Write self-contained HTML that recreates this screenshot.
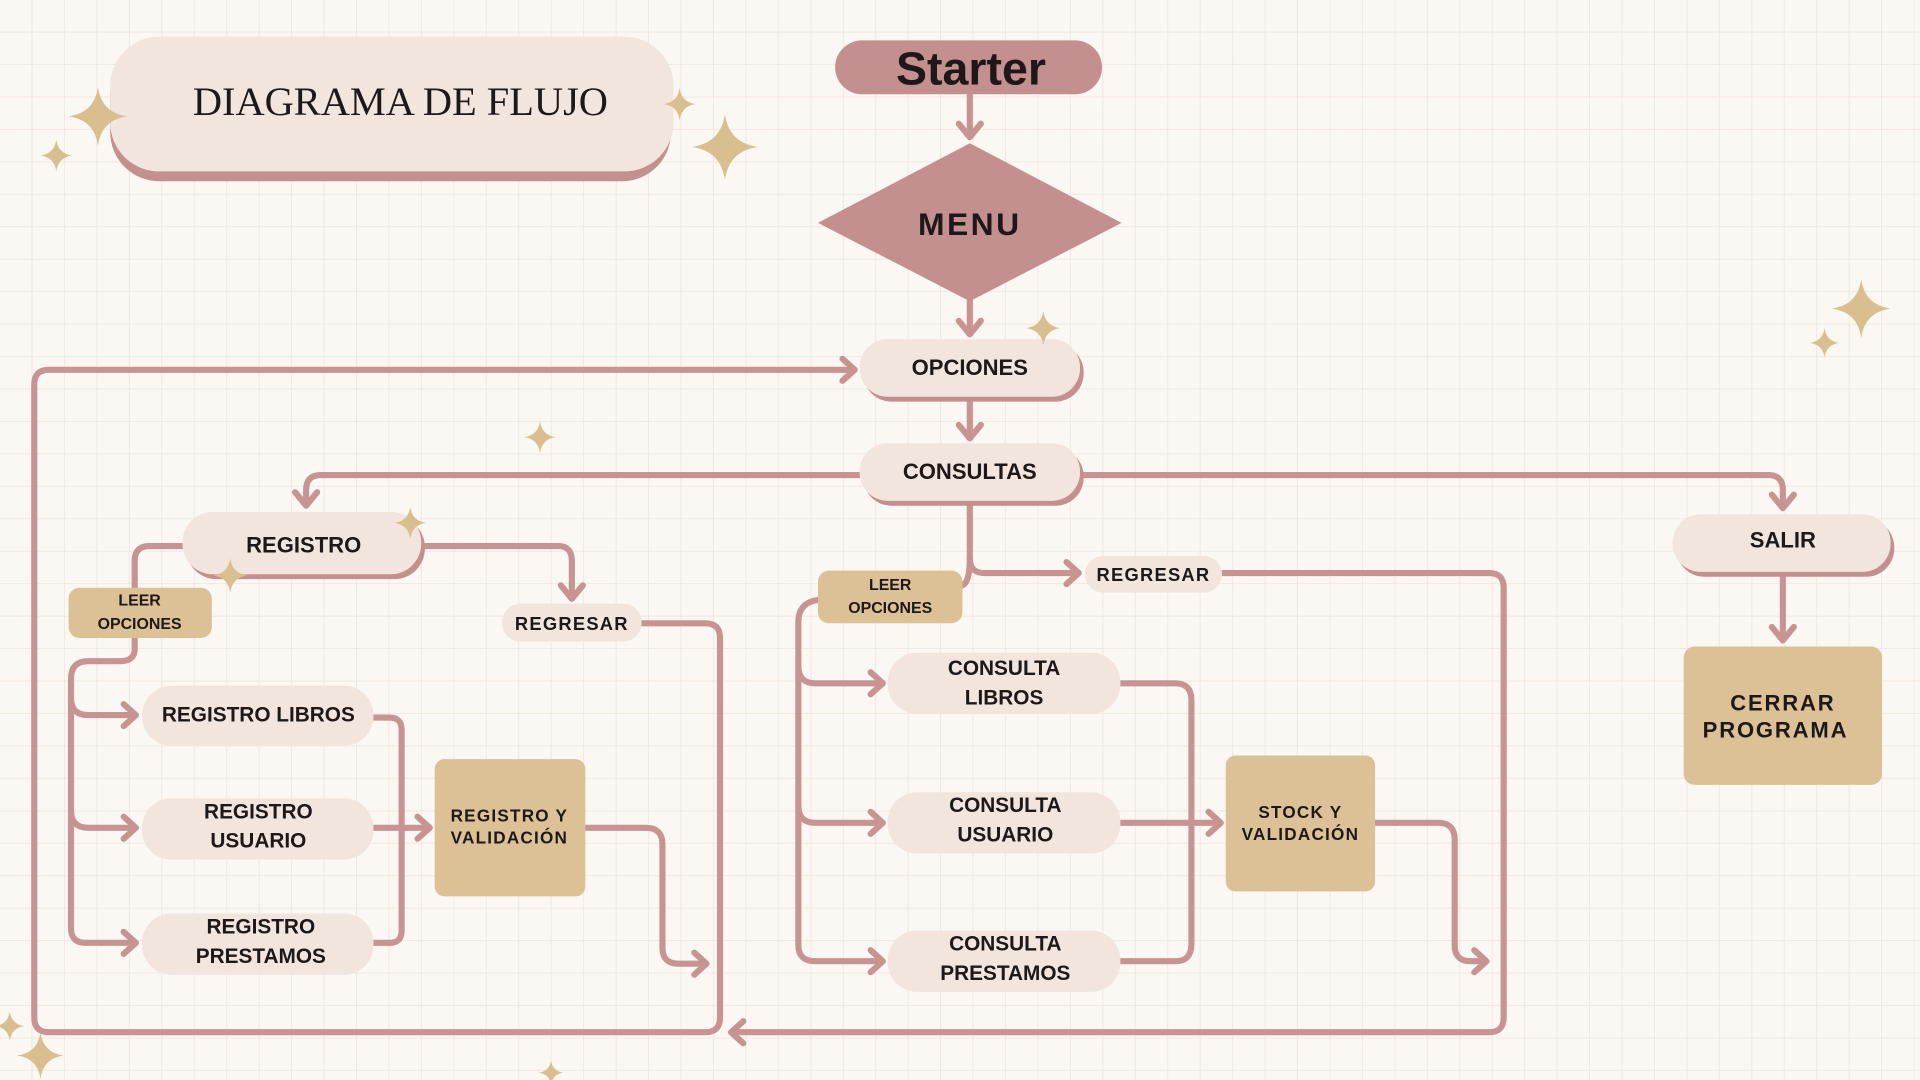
<!DOCTYPE html>
<html><head><meta charset="utf-8"><style>
html,body{margin:0;padding:0;width:1920px;height:1080px;overflow:hidden;background:#fbf7f2}
svg{display:block}
text{font-family:"Liberation Sans",sans-serif;font-weight:bold;fill:#1e1818;text-anchor:middle;dominant-baseline:central}
</style></head><body>
<svg width="1920" height="1080" viewBox="0 0 1568 882" xmlns="http://www.w3.org/2000/svg">
<defs>
<pattern id="g" width="26.5" height="26.5" patternUnits="userSpaceOnUse">
<path d="M26.5 0V26.5H0" fill="none" stroke="#efe4dc" stroke-width="1.3"/>
</pattern>
<symbol id="sp" viewBox="-10 -10 20 20"><path d="M0-10Q1.2-1.2 10 0Q1.2 1.2 0 10Q-1.2 1.2-10 0Q-1.2-1.2 0-10Z" fill="#d9bf8f"/></symbol>
</defs>
<rect width="1568" height="882" fill="#fbf7f2"/>
<rect width="1568" height="882" fill="url(#g)"/>

<!-- title -->
<rect x="90" y="38" width="458" height="110" rx="40" fill="#c48f8f"/>
<rect x="90" y="30" width="460" height="110" rx="40" fill="#f2e5de"/>
<text x="327" y="83" style="font-family:'Liberation Serif',serif;font-weight:normal;font-size:33px">DIAGRAMA DE FLUJO</text>

<!-- connectors -->
<g fill="none" stroke="#c79393" stroke-width="5" stroke-linecap="round" stroke-linejoin="round">
<path d="M792 78V112"/><polyline points="783,101 792,112 801,101"/>
<path d="M792 246V272"/><polyline points="783,262 792,273 801,262"/>
<path d="M792 326V357"/><polyline points="783,347 792,358 801,347"/>
<path d="M702 388H262Q250 388 250 400V412"/><polyline points="241,402 250,413 259,402"/>
<path d="M884 388H1444Q1456 388 1456 400V414"/><polyline points="1447,404 1456,415 1465,404"/>
<path d="M1456 470V522"/><polyline points="1447,512 1456,523 1465,512"/>
<!-- registro -->
<path d="M346 446H456Q467 446 467 458V487"/><polyline points="458,478 467,489 476,478"/>
<path d="M150 446H122Q110 446 110 458V480"/>
<path d="M110 520V530Q110 540 98 540H72Q58 540 58 554V758Q58 770 70 770H110"/>
<path d="M58 570Q58 584 72 584H110"/><path d="M58 662Q58 676 72 676H110"/>
<polyline points="101,575 111,584 101,593"/><polyline points="101,667 111,676 101,685"/><polyline points="101,761 111,770 101,779"/>
<path d="M305 586H318Q328 586 328 596V760Q328 770 318 770H305"/>
<path d="M305 676H350"/><polyline points="341,667 351,676 341,685"/>
<path d="M478 676H528Q541 676 541 690V774Q541 787 554 787H576"/><polyline points="567,778 577,787 567,796"/>
<!-- big loop left -->
<path d="M524 509H576Q588 509 588 521V831Q588 843 576 843H40Q28 843 28 831V314Q28 302 40 302H698"/>
<polyline points="688,293 698,302 688,311"/>
<!-- consultas branch -->
<path d="M792 410V456Q792 468 804 468H880"/><polyline points="871,459 881,468 871,477"/>
<path d="M792 456Q792 476 786 478"/>
<path d="M998 468H1216Q1228 468 1228 480V831Q1228 843 1216 843H598"/><polyline points="607,834 597,843 607,852"/>
<path d="M668 490Q652 492 652 508V772Q652 785 666 785H720"/>
<path d="M652 544Q652 558 666 558H720"/><path d="M652 658Q652 672 666 672H720"/>
<polyline points="711,549 721,558 711,567"/><polyline points="711,663 721,672 711,681"/><polyline points="711,776 721,785 711,794"/>
<path d="M915 558H960Q973 558 973 572V771Q973 785 960 785H915"/>
<path d="M915 672H996"/><polyline points="987,663 997,672 987,681"/>
<path d="M1123 672H1175Q1188 672 1188 686V772Q1188 785 1201 785H1213"/><polyline points="1204,776 1214,785 1204,794"/>
</g>

<!-- Starter -->
<rect x="682" y="33" width="218" height="44" rx="22" fill="#c48f8f"/>
<text x="793" y="56" style="font-size:38px">Starter</text>
<!-- Menu -->
<polygon points="792,117 916,182 792,246 668,182" fill="#c48f8f"/>
<text x="792" y="183" style="font-size:26px;letter-spacing:2px">MENU</text>

<!-- pills -->
<g>
<rect x="705" y="281" width="180" height="47" rx="23" fill="#c48f8f"/><rect x="702" y="277" width="180" height="47" rx="23" fill="#f2e5de"/>
<text x="792" y="300" style="font-size:18px">OPCIONES</text>
<rect x="705" y="366" width="180" height="47" rx="23" fill="#c48f8f"/><rect x="702" y="362" width="180" height="47" rx="23" fill="#f2e5de"/>
<text x="792" y="385" style="font-size:18px">CONSULTAS</text>
<rect x="152" y="422" width="195" height="51" rx="25" fill="#c48f8f"/><rect x="149" y="418" width="195" height="51" rx="25" fill="#f2e5de"/>
<text x="248" y="445" style="font-size:18px">REGISTRO</text>
<rect x="1369" y="424" width="178" height="47" rx="23" fill="#c48f8f"/><rect x="1366" y="420" width="178" height="47" rx="23" fill="#f2e5de"/>
<text x="1456" y="441" style="font-size:18px">SALIR</text>
<rect x="410" y="493" width="114" height="31" rx="15" fill="#f2e5de"/>
<text x="467" y="509" style="font-size:15px;letter-spacing:1px">REGRESAR</text>
<rect x="886" y="454" width="112" height="30" rx="15" fill="#f2e5de"/>
<text x="942" y="469" style="font-size:15px;letter-spacing:1px">REGRESAR</text>
<rect x="116" y="560" width="189" height="49" rx="24" fill="#f2e5de"/>
<text x="211" y="584" style="font-size:17px">REGISTRO LIBROS</text>
<rect x="116" y="652" width="189" height="50" rx="24" fill="#f2e5de"/>
<text x="211" y="663" style="font-size:17px">REGISTRO</text><text x="211" y="687" style="font-size:17px">USUARIO</text>
<rect x="116" y="746" width="189" height="50" rx="24" fill="#f2e5de"/>
<text x="213" y="757" style="font-size:17px">REGISTRO</text><text x="213" y="781" style="font-size:17px">PRESTAMOS</text>
<rect x="725" y="533" width="190" height="50" rx="24" fill="#f2e5de"/>
<text x="820" y="546" style="font-size:17px">CONSULTA</text><text x="820" y="570" style="font-size:17px">LIBROS</text>
<rect x="725" y="647" width="190" height="50" rx="24" fill="#f2e5de"/>
<text x="821" y="658" style="font-size:17px">CONSULTA</text><text x="821" y="682" style="font-size:17px">USUARIO</text>
<rect x="725" y="760" width="190" height="50" rx="24" fill="#f2e5de"/>
<text x="821" y="771" style="font-size:17px">CONSULTA</text><text x="821" y="795" style="font-size:17px">PRESTAMOS</text>
</g>
<!-- tan boxes -->
<rect x="56" y="480" width="117" height="41" rx="9" fill="#dbc195"/>
<text x="114" y="491" style="font-size:13px">LEER</text><text x="114" y="510" style="font-size:13px">OPCIONES</text>
<rect x="668" y="466" width="118" height="43" rx="9" fill="#dbc195"/>
<text x="727" y="478" style="font-size:13px">LEER</text><text x="727" y="497" style="font-size:13px">OPCIONES</text>
<rect x="355" y="620" width="123" height="112" rx="8" fill="#dbc195"/>
<text x="416" y="666" style="font-size:14px;letter-spacing:1px">REGISTRO Y</text><text x="416" y="684" style="font-size:14px;letter-spacing:1px">VALIDACIÓN</text>
<rect x="1001" y="617" width="122" height="111" rx="8" fill="#dbc195"/>
<text x="1062" y="663" style="font-size:14px;letter-spacing:1px">STOCK Y</text><text x="1062" y="681" style="font-size:14px;letter-spacing:1px">VALIDACIÓN</text>
<rect x="1375" y="528" width="162" height="113" rx="9" fill="#dbc195"/>
<text x="1456" y="574" style="font-size:18px;letter-spacing:1.5px">CERRAR</text><text x="1450" y="596" style="font-size:18px;letter-spacing:1.5px">PROGRAMA</text>

<!-- sparkles -->
<use href="#sp" x="56" y="71" width="48" height="48"/>
<use href="#sp" x="33" y="114" width="26" height="26"/>
<use href="#sp" x="542" y="72" width="26" height="26"/>
<use href="#sp" x="565" y="93" width="54" height="54"/>
<use href="#sp" x="838" y="254" width="28" height="28"/>
<use href="#sp" x="428" y="344" width="26" height="26"/>
<use href="#sp" x="322" y="414" width="26" height="26"/>
<use href="#sp" x="174" y="456" width="28" height="28"/>
<use href="#sp" x="1496" y="228" width="48" height="48"/>
<use href="#sp" x="1478" y="268" width="24" height="24"/>
<use href="#sp" x="14" y="843" width="38" height="38"/>
<use href="#sp" x="-4" y="826" width="24" height="24"/>
<use href="#sp" x="440" y="866" width="20" height="20"/>
</svg>
</body></html>
